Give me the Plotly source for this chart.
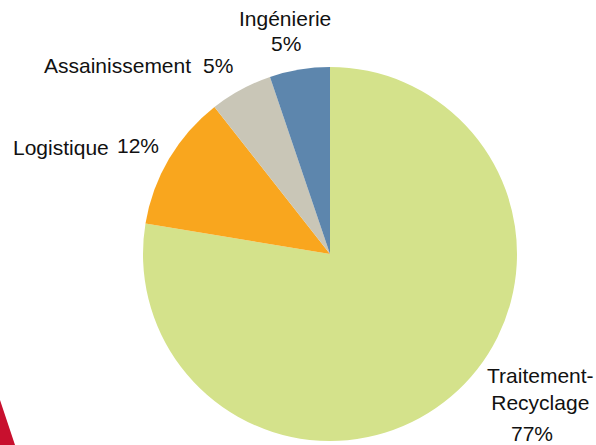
import plotly.graph_objects as go

# parts of the activity (slice values, labels as printed)
secteurs = ["Traitement-Recyclage", "Logistique", "Assainissement", "Ingénierie"]
parts = [77.6, 11.8, 5.4, 5.2]
pourcents = ["77%", "12%", "5%", "5%"]
couleurs = ["#D4E28B", "#F9A61E", "#C9C6B7", "#5D86AD"]

W, H = 596, 445

fig = go.Figure()
fig.add_trace(go.Pie(
    labels=secteurs, values=parts,
    sort=False, direction="clockwise", rotation=0,
    marker=dict(colors=couleurs, line=dict(width=0)),
    textinfo="none", hoverinfo="label+percent",
    domain=dict(x=[143 / W, 517 / W], y=[4 / H, 378 / H]),
    showlegend=False,
))

police = dict(family="Liberation Sans, Arial, sans-serif", size=21, color="#111111")

def txt(x, y, s, anchor="center", vanchor="middle"):
    # x, y in pixels from top-left
    fig.add_annotation(x=x / W, y=1 - y / H, xref="paper", yref="paper",
                       text=s, showarrow=False, xanchor=anchor, yanchor=vanchor,
                       borderpad=0, font=police)

txt(285, 18, secteurs[3])
txt(286, 43, pourcents[3])
txt(43, 65, secteurs[2], "left")
txt(202, 65, pourcents[2], "left")
txt(12, 147, secteurs[1], "left")
txt(116, 145, pourcents[1], "left")
txt(540, 389, secteurs[0].replace("-", "-<br>"))
txt(532, 446, pourcents[0], vanchor="bottom")

# red corner decoration
fig.add_shape(type="path", xref="paper", yref="paper",
              path=f"M 0 {1 - 400 / H} L {15 / W} 0 L 0 0 Z",
              fillcolor="#C8102E", line=dict(width=0))

fig.update_layout(
    width=W, height=H,
    margin=dict(l=0, r=0, t=0, b=0),
    paper_bgcolor="white", plot_bgcolor="white",
)

# drop the page's default body margin so the figure sits at the window's corner
fig.write_html("out.html", config={"displayModeBar": False},
               post_script="document.body.style.margin='0';")
